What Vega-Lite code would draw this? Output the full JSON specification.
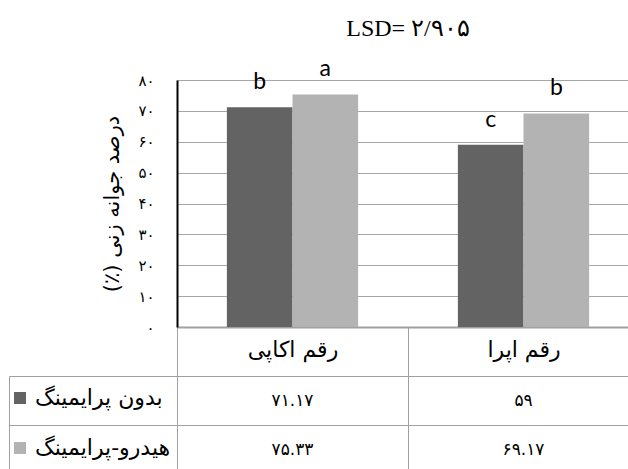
{
  "$schema": "https://vega.github.io/schema/vega-lite/v6.json",
  "background": "white",
  "padding": {"left": 8, "top": 17, "right": 0, "bottom": 0},
  "data": {"values": [
    {"cultivar": "رقم اکاپی", "treatment": "بدون پرایمینگ", "value": 71.17, "label": "۷۱.۱۷", "letter": "b"},
    {"cultivar": "رقم اکاپی", "treatment": "هیدرو-پرایمینگ", "value": 75.33, "label": "۷۵.۳۳", "letter": "a"},
    {"cultivar": "رقم اپرا", "treatment": "بدون پرایمینگ", "value": 59, "label": "۵۹", "letter": "c"},
    {"cultivar": "رقم اپرا", "treatment": "هیدرو-پرایمینگ", "value": 69.17, "label": "۶۹.۱۷", "letter": "b"}
  ]},
  "bounds": "flush",
  "spacing": 49,
  "vconcat": [
    {
      "width": 462,
      "height": 247,
      "view": {"stroke": null},
      "title": {"text": "LSD= ۲/۹۰۵", "font": "Liberation Serif", "fontSize": 24, "fontWeight": "normal", "color": "#000000", "anchor": "middle", "offset": 17},
      "encoding": {
        "x": {
          "field": "cultivar", "type": "nominal",
          "sort": ["رقم اکاپی", "رقم اپرا"],
          "scale": {"paddingInner": 0, "paddingOuter": 0},
          "axis": {
            "title": null, "orient": "bottom",
            "domain": true, "domainColor": "#a0a0a0", "domainWidth": 2,
            "ticks": true, "tickSize": 49, "tickColor": "#a0a0a0", "tickWidth": 1, "tickBand": "extent",
            "grid": false,
            "labelAngle": 0, "labelFont": "DejaVu Sans", "labelFontSize": 22, "labelColor": "#000000",
            "labelBaseline": "middle", "labelPadding": -27
          }
        },
        "xOffset": {
          "field": "treatment", "type": "nominal",
          "sort": ["بدون پرایمینگ", "هیدرو-پرایمینگ"],
          "scale": {"paddingInner": 0, "paddingOuter": 0.76}
        },
        "y": {
          "field": "value", "type": "quantitative",
          "scale": {"domain": [0, 80], "nice": false},
          "axis": {
            "title": "درصد جوانه زنی (٪)‏",
            "titleFont": "DejaVu Sans", "titleFontSize": 21, "titleFontWeight": "normal", "titleColor": "#000000",
            "titlePadding": 15,
            "values": [0, 10, 20, 30, 40, 50, 60, 70, 80],
            "labelExpr": "['۰','۱۰','۲۰','۳۰','۴۰','۵۰','۶۰','۷۰','۸۰'][datum.value/10]",
            "labelFont": "DejaVu Sans", "labelFontSize": 15, "labelColor": "#000000", "labelPadding": 23,
            "ticks": false,
            "domain": true, "domainColor": "#000000", "domainWidth": 2,
            "grid": true, "gridColor": "#a6a6a6", "gridWidth": 1
          }
        }
      },
      "layer": [
        {
          "mark": {"type": "bar"},
          "encoding": {
            "color": {
              "field": "treatment", "type": "nominal",
              "scale": {"domain": ["بدون پرایمینگ", "هیدرو-پرایمینگ"], "range": ["#636363", "#b3b3b3"]},
              "legend": {
                "orient": "none", "legendX": -168, "legendY": 307,
                "title": null, "symbolType": "square", "symbolSize": 144, "symbolStrokeWidth": 0,
                "labelFont": "DejaVu Sans", "labelFontSize": 22, "labelColor": "#000000",
                "labelOffset": 4, "rowPadding": 28, "padding": 0, "labelLimit": 300
              }
            }
          }
        },
        {
          "mark": {"type": "text", "dy": -18, "baseline": "alphabetic", "font": "Lato", "fontSize": 23, "color": "#000000"},
          "encoding": {"text": {"field": "letter"}}
        }
      ]
    },
    {
      "width": 462,
      "height": 98,
      "view": {"stroke": "#a0a0a0"},
      "mark": {"type": "text", "font": "DejaVu Sans", "fontSize": 17, "color": "#000000"},
      "encoding": {
        "x": {
          "field": "cultivar", "type": "nominal",
          "sort": ["رقم اکاپی", "رقم اپرا"],
          "scale": {"paddingInner": 0, "paddingOuter": 0},
          "axis": {"title": null, "labels": false, "ticks": false, "domain": false, "grid": true, "tickBand": "extent", "gridColor": "#a0a0a0", "gridWidth": 1}
        },
        "y": {
          "field": "treatment", "type": "nominal",
          "sort": ["بدون پرایمینگ", "هیدرو-پرایمینگ"],
          "scale": {"paddingInner": 0, "paddingOuter": 0},
          "axis": {
            "title": null, "labels": false, "offset": 168,
            "domain": true, "domainColor": "#a0a0a0", "domainWidth": 1,
            "ticks": true, "tickSize": {"expr": "-168"}, "tickColor": "#a0a0a0", "tickBand": "extent",
            "grid": true, "gridColor": "#a0a0a0", "gridWidth": 1
          }
        },
        "text": {"field": "label"}
      }
    }
  ]
}
